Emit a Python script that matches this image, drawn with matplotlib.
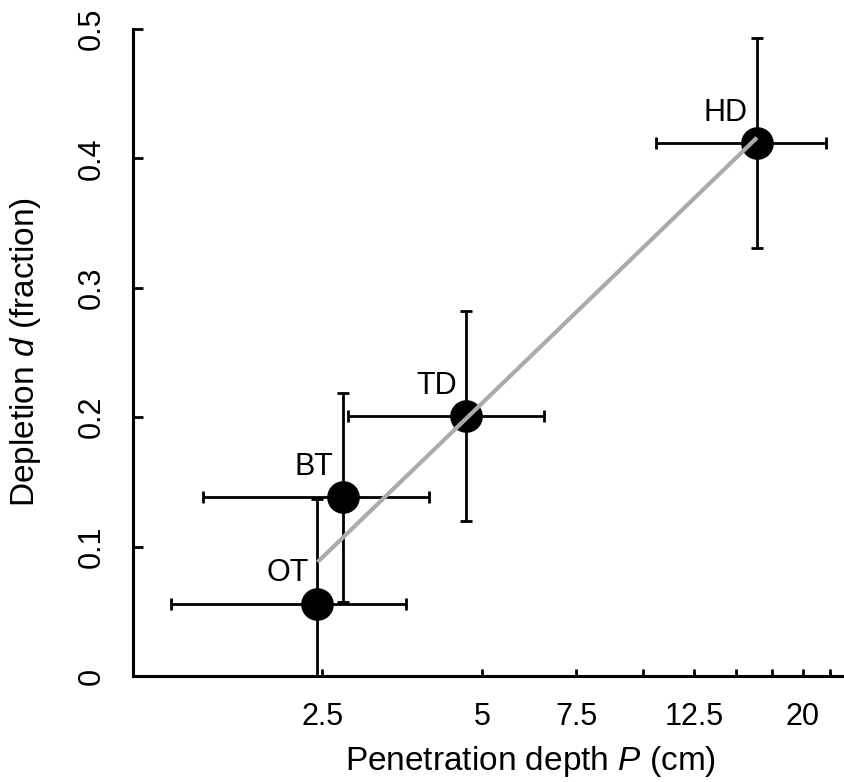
import matplotlib
matplotlib.use("Agg")
import matplotlib.pyplot as plt
from matplotlib.ticker import FixedLocator, FixedFormatter, NullLocator

plt.rcParams['font.family'] = ['Liberation Sans', 'DejaVu Sans']
plt.rcParams['mathtext.fontset'] = 'custom'
plt.rcParams['mathtext.rm'] = 'Liberation Sans'
plt.rcParams['mathtext.it'] = 'Liberation Sans:italic'

# site data: penetration depth P (cm) and depletion d (fraction)
sites = ['OT', 'BT', 'TD', 'HD']
depth = [2.45, 2.73, 4.66, 16.4]
depth_lo = [1.30, 1.49, 2.79, 10.6]
depth_hi = [3.60, 3.97, 6.54, 22.1]
depletion = [0.056, 0.138, 0.201, 0.412]
depletion_err = [0.081, 0.081, 0.081, 0.081]

# fitted trend line (log-linear), end points
fit_depth = [2.45, 16.4]
fit_depletion = [0.088, 0.416]

x_ticks = [2.5, 5, 7.5, 10, 12.5, 15, 17.5, 20, 22.5]
x_ticklabels = ['2.5', '5', '7.5', '', '12.5', '', '', '20', '']
y_ticks = [0, 0.1, 0.2, 0.3, 0.4, 0.5]
y_ticklabels = ['0', '0.1', '0.2', '0.3', '0.4', '0.5']

fig = plt.figure(figsize=(8.45, 7.82), dpi=100)
ax = fig.add_axes([0.1574, 0.1355, 0.8426, 0.8275])

xerr = [[d - lo for d, lo in zip(depth, depth_lo)],
        [hi - d for d, hi in zip(depth, depth_hi)]]
ax.errorbar(depth, depletion, xerr=xerr, yerr=depletion_err, fmt='o',
            color='black', ecolor='black', markersize=22.5, elinewidth=2.0,
            capsize=4.5, capthick=2.0, zorder=3)
ax.plot(fit_depth, fit_depletion, color='#ababab', lw=3.0,
        solid_capstyle='butt', zorder=4)

for name, x, y in zip(sites, depth, depletion):
    ax.annotate(name, (x, y), xytext=(-6.5, 16), textcoords='offset points',
                ha='right', va='baseline', fontsize=22)

ax.set_xscale('log')
ax.set_xlim(1.103, 24.0)
ax.set_ylim(0, 0.5)
ax.xaxis.set_major_locator(FixedLocator(x_ticks))
ax.xaxis.set_major_formatter(FixedFormatter(x_ticklabels))
ax.xaxis.set_minor_locator(NullLocator())
ax.yaxis.set_major_locator(FixedLocator(y_ticks))
ax.yaxis.set_major_formatter(FixedFormatter(y_ticklabels))

for side in ['top', 'right']:
    ax.spines[side].set_visible(False)
for side in ['left', 'bottom']:
    ax.spines[side].set_linewidth(2.2)

ax.tick_params(axis='x', direction='in', length=5, width=2,
               labelsize=22, pad=19)
ax.tick_params(axis='y', direction='in', length=7, width=2,
               labelsize=22, pad=19)
for lab in ax.get_yticklabels():
    lab.set_rotation(90)
    lab.set_va('center')

ax.set_xlabel(r'Penetration depth $\mathit{P}$ (cm)', fontsize=24)
ax.xaxis.set_label_coords(0.558, -0.105)
ax.set_ylabel(r'Depletion $\mathit{d}$ (fraction)', fontsize=24, labelpad=24)

fig.savefig('out.png', dpi=100)
